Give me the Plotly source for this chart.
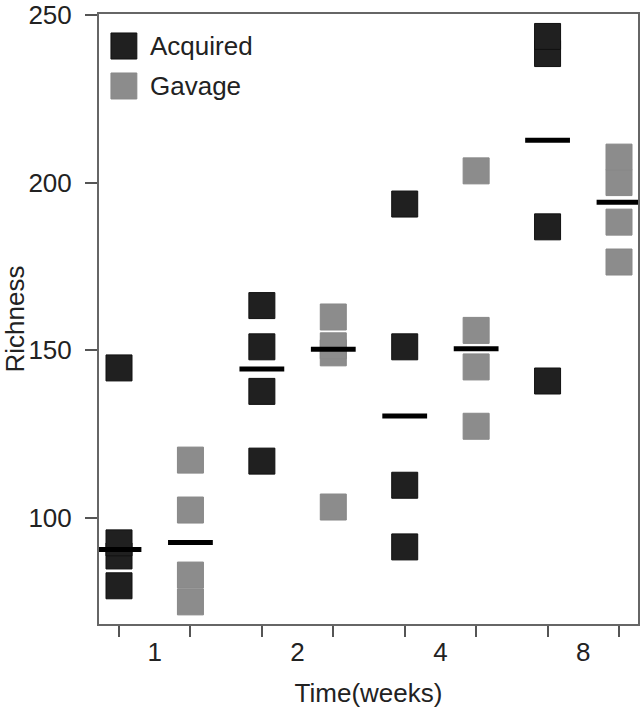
import numpy as np
import plotly.graph_objects as go

weeks = ["1", "2", "4", "8"]
series_names = ["Acquired", "Gavage"]
acquired = [
    [79.7, 88.6, 92.5, 144.7],
    [116.9, 137.7, 151.0, 163.3],
    [91.3, 109.7, 151.0, 193.6],
    [140.8, 186.8, 238.5, 243.6],
]
gavage = [
    [74.9, 82.9, 102.3, 117.2],
    [103.2, 149.2, 151.3, 159.9],
    [127.3, 145.0, 155.9, 203.5],
    [176.3, 188.2, 200.0, 207.6],
]
colors = ["#202020", "#8c8c8c"]
FONT = "Liberation Sans, Arial, Helvetica, sans-serif"

fig = go.Figure()
for s, (name, data) in enumerate(zip(series_names, [acquired, gavage])):
    xs, ys = [], []
    for i, vals in enumerate(data):
        for v in vals:
            xs.append(2 * i + s)
            ys.append(v)
    fig.add_trace(go.Scatter(
        x=xs, y=ys, mode="markers", name=name, showlegend=False,
        marker=dict(symbol="square", size=26, color=colors[s],
                    line=dict(width=1, color="#111111" if s == 0 else "#888888")),
    ))

# medians
mx, my = [], []
for s, data in enumerate([acquired, gavage]):
    for i, vals in enumerate(data):
        mx.append(2 * i + s)
        my.append(float(np.median(vals)))
fig.add_trace(go.Scatter(
    x=mx, y=my, mode="markers", showlegend=False,
    marker=dict(symbol="line-ew", size=32, line=dict(width=5, color="#000000")),
))

# manual legend
leg_y = [(0.9689, 0.9262), (0.9033, 0.8607)]
for s, name in enumerate(series_names):
    y1, y0 = leg_y[s]
    fig.add_shape(type="rect", xref="paper", yref="paper",
                  x0=0.0222, x1=0.0702, y0=y0, y1=y1,
                  fillcolor=colors[s], line=dict(width=1, color="#111111" if s == 0 else "#888888"))
    fig.add_annotation(xref="paper", yref="paper", x=0.0906, y=(y0 + y1) / 2,
                       text=name, showarrow=False, xanchor="left", yanchor="middle",
                       font=dict(family=FONT, size=26, color="#222222"))

axis_col = "#666666"
fig.update_layout(
    width=641, height=708,
    margin=dict(l=99, r=3, t=14, b=84),
    paper_bgcolor="white", plot_bgcolor="white",
    font=dict(family=FONT, size=26, color="#222222"),
    xaxis=dict(
        range=[-0.28, 7.266], tickmode="array", automargin=False,
        tickvals=[2 * i + 0.5 for i in range(len(weeks))], ticktext=weeks,
        ticks="", showgrid=False, zeroline=False, ticklabelstandoff=4,
        ticklabeloverflow="allow",
        showline=True, linecolor=axis_col, linewidth=2, mirror=True,
        minor=dict(tickmode="array", tickvals=list(range(2 * len(weeks))),
                   ticks="outside", ticklen=11, tickwidth=2, tickcolor="#555555",
                   showgrid=False),
        title=dict(text="Time(weeks)", font=dict(size=26), standoff=18),
        tickfont=dict(size=26),
    ),
    yaxis=dict(
        range=[68.3, 250.3], tickmode="array", tickvals=[100, 150, 200, 250],
        automargin=False, ticklabeloverflow="allow", ticklabelstandoff=8,
        ticks="outside", ticklen=12, tickwidth=2, tickcolor="#555555",
        showgrid=False, zeroline=False,
        showline=True, linecolor=axis_col, linewidth=2, mirror=True,
        title=dict(text="Richness", font=dict(size=26), standoff=10),
        tickfont=dict(size=26),
    ),
)

fig.write_html("out.html", config={"displayModeBar": False},
               post_script="document.body.style.margin='0';")
